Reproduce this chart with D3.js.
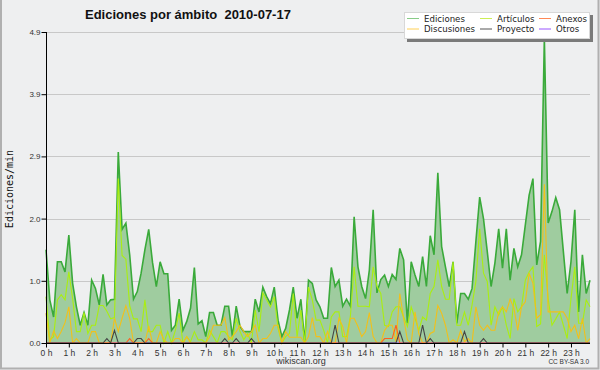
<!DOCTYPE html>
<html><head><meta charset="utf-8">
<script src="https://cdn.jsdelivr.net/npm/d3@7/dist/d3.min.js"></script>
<style>html,body{margin:0;padding:0;background:#eeeff0;overflow:hidden}</style>
</head><body><svg id="c" width="600" height="370"></svg>
<script>
// ---------- DATA (10-minute slots, 0h00 .. 23h50) ----------
const hourLabels = ["0 h","1 h","2 h","3 h","4 h","5 h","6 h","7 h","8 h","9 h","10 h","11 h",
  "12 h","13 h","14 h","15 h","16 h","17 h","18 h","19 h","20 h","21 h","22 h","23 h"];
const yTickValues = [0, 0.98, 1.96, 2.94, 3.92, 4.9];
const yTickLabels = ["0.0","1.0","2.0","2.9","3.9","4.9"];
const seriesNames = ["Ediciones","Artículos","Anexos","Discusiones","Proyecto","Otros"];

const ediciones = [
 1.47,0.68,0.41,1.28,1.28,1.12,1.70,0.94,0.57,0.28,0.48,0.28,
 0.99,0.86,0.60,1.08,0.60,0.68,0.69,3.01,1.79,1.89,1.39,0.69,
 0.81,1.10,1.47,1.79,1.27,0.89,1.28,1.09,1.09,0.20,0.28,0.69,
 0.20,0.34,0.55,1.19,0.30,0.35,0.10,0.48,0.48,0.28,0.28,0.58,
 0.58,0.10,0.58,0.26,0.18,0.18,0.18,0.69,0.49,0.88,0.73,0.62,
 0.88,0.36,0.10,0.23,0.52,0.88,0.39,0.69,0.02,0.99,0.94,0.68,
 0.57,0.39,0.39,1.19,0.89,0.99,0.58,0.69,0.58,1.99,1.20,0.89,
 0.70,1.15,2.10,0.79,1.00,1.07,0.89,1.08,1.00,1.49,1.31,0.31,
 1.28,1.07,0.89,1.36,0.89,1.69,1.39,2.68,1.52,1.20,0.89,1.28,
 0.31,0.78,0.78,0.69,0.86,1.60,2.30,1.96,1.44,0.89,1.26,1.80,
 1.18,1.80,0.99,1.49,1.20,1.39,1.86,2.33,2.59,1.23,1.60,4.80,
 1.89,2.07,2.29,2.10,1.44,0.78,1.28,2.10,0.49,1.39,0.78,0.99];
const articulos = [
 0.73,0.05,0.10,0.68,0.76,0.68,1.12,0.70,0.18,0.18,0.48,0.15,
 0.28,0.28,0.59,0.59,0.50,0.38,0.40,2.59,1.38,1.32,0.59,0.38,
 0.38,0.18,0.68,0.18,0.18,0.28,0.28,0.00,0.18,0.00,0.20,0.47,
 0.00,0.10,0.02,0.18,0.05,0.05,0.00,0.20,0.10,0.00,0.18,0.18,
 0.10,0.05,0.39,0.18,0.05,0.15,0.00,0.52,0.18,0.79,0.68,0.57,
 0.73,0.23,0.00,0.10,0.15,0.78,0.10,0.52,0.00,0.88,0.68,0.36,
 0.36,0.20,0.00,0.41,0.49,0.49,0.10,0.10,0.41,1.20,0.58,0.58,
 0.58,0.57,1.20,0.89,0.78,0.28,0.26,0.49,0.57,0.57,0.41,0.26,
 0.57,0.39,0.20,0.41,0.36,0.78,0.89,1.31,0.89,0.69,0.69,1.28,
 0.28,0.28,0.49,0.28,0.60,0.97,1.80,1.10,0.97,0.28,0.57,0.44,
 0.57,0.28,0.07,0.70,0.49,0.57,0.99,1.12,1.20,0.26,0.30,1.39,
 0.70,0.28,0.38,0.49,0.28,0.07,0.70,1.20,0.31,0.31,0.68,0.57];
const anexos = [
 0,0,0,0,0,0,0,0,0,0,0,0,
 0,0,0,0,0,0,0,0,0,0,0.07,0,
 0,0,0,0.07,0,0,0,0,0,0,0,0,
 0,0,0,0,0,0,0,0,0,0,0,0,
 0,0,0,0,0,0,0,0,0,0,0,0,
 0,0,0,0,0,0,0,0,0,0,0,0,
 0,0,0,0,0,0,0,0,0,0,0,0,
 0,0,0,0,0,0.07,0.07,0.07,0.28,0,0,0,
 0,0,0,0,0,0,0,0,0,0,0,0,
 0,0,0,0,0,0,0,0,0,0,0,0,
 0,0,0,0,0,0,0,0,0,0,0,0,
 0,0,0,0,0,0,0,0,0,0,0,0];
const discusiones = [
 0.47,0.00,0.19,0.07,0.18,0.32,0.57,0.00,0.07,0.00,0.00,0.00,
 0.18,0.18,0.00,0.00,0.00,0.00,0.39,0.18,0.39,0.59,0.39,0.00,
 0.00,0.00,0.00,0.27,0.00,0.00,0.18,0.05,0.00,0.00,0.07,0.07,
 0.00,0.10,0.00,0.00,0.00,0.00,0.00,0.10,0.28,0.28,0.28,0.40,
 0.05,0.10,0.18,0.28,0.18,0.10,0.18,0.28,0.00,0.07,0.07,0.15,
 0.28,0.28,0.00,0.18,0.09,0.09,0.09,0.09,0.00,0.10,0.40,0.10,
 0.10,0.00,0.18,0.00,0.00,0.39,0.26,0.00,0.39,0.39,0.26,0.10,
 0.18,0.48,0.10,0.00,0.00,0.20,0.28,0.28,0.02,0.78,0.39,0.05,
 0.00,0.49,0.15,0.00,0.00,0.15,0.18,0.59,0.47,0.28,0.00,0.05,
 0.00,0.20,0.02,0.07,0.00,0.57,0.28,0.20,0.28,0.20,0.20,0.49,
 0.57,0.49,0.69,0.55,0.20,0.57,0.65,1.10,0.94,0.39,0.45,2.50,
 0.49,0.49,0.49,0.49,0.49,0.39,0.18,0.28,0.07,0.39,0.00,0.07];
const proyecto = [
 0,0,0,0,0,0,0,0,0,0,0,0,
 0,0,0,0,0.07,0,0.20,0,0,0,0,0,
 0.07,0.07,0,0,0,0,0,0,0,0,0,0,
 0,0,0,0,0,0,0,0,0,0,0,0.07,
 0,0,0.07,0,0,0,0.07,0,0,0,0,0,
 0,0,0,0,0,0,0,0,0,0,0,0,
 0,0,0,0,0.28,0,0,0,0,0,0,0,
 0,0,0,0,0,0,0,0,0,0.18,0,0,
 0,0,0,0.28,0,0.07,0,0,0,0,0,0,
 0,0,0.18,0,0,0,0,0.07,0,0,0,0,
 0,0,0,0,0,0,0,0,0,0,0,0,
 0,0,0,0,0,0,0,0,0,0,0,0];
const otros = [
 0,0,0,0,0,0,0,0,0,0,0,0, 0,0,0,0,0,0,0,0,0,0,0,0,
 0,0,0,0,0,0,0,0,0,0,0,0, 0,0,0,0,0,0,0,0,0,0,0,0,
 0,0,0,0,0,0,0,0,0,0,0,0, 0,0,0,0,0,0,0,0,0,0,0,0,
 0,0,0,0,0,0,0,0,0,0,0,0, 0,0,0,0,0,0,0,0,0,0,0,0,
 0,0,0,0,0,0,0,0,0,0,0,0, 0,0,0,0,0,0,0,0,0,0,0,0,
 0,0,0,0,0,0,0,0,0,0,0,0, 0,0,0,0,0,0,0,0,0,0,0,0];

// ---------- DRAW ----------
const W = 600, H = 370;
const svg = d3.select("#c");
const FONT = "'Liberation Sans', Arial, sans-serif";
const PIX = "'DejaVu Sans', Verdana, sans-serif";

svg.append("rect").attr("width", W).attr("height", H).attr("fill", "#eeeff0");
// outer border (right / bottom / left)
svg.append("path").attr("d", "M1,0 V368.5 H598.5 V0").attr("fill", "none")
  .attr("stroke", "#b0b0b0").attr("stroke-width", 2);

const n = ediciones.length;
const x = d3.scaleLinear().domain([0, n - 1]).range([46, 590]);
const y = d3.scaleLinear().domain([0, 4.9]).range([343, 32]);

// grid
svg.append("g").selectAll("line").data(yTickValues.slice(1)).join("line")
  .attr("x1", 46).attr("x2", 590)
  .attr("y1", d => Math.round(y(d)) + 0.5).attr("y2", d => Math.round(y(d)) + 0.5)
  .attr("stroke", "#c8c8c8").attr("stroke-width", 1);

const idx = d3.range(n);
// Ediciones area + line
svg.append("path").datum(idx)
  .attr("d", d3.area().x(i => x(i)).y0(y(0)).y1(i => y(ediciones[i])))
  .attr("fill", "#9fcc9f");

const lineFor = arr => d3.line().x(i => x(i)).y(i => y(arr[i]));
const series = [
  {data: otros, color: "#9933ff", w: 1},
  {data: ediciones, color: "#3aaa3a", w: 1.6},
  {data: articulos, color: "#aaee11", w: 1.1},
  {data: discusiones, color: "#f2c01a", w: 1.1},
  {data: anexos, color: "#ff6020", w: 1.1},
  {data: proyecto, color: "#444444", w: 1.1}
];
series.forEach(s => {
  svg.append("path").datum(idx).attr("d", lineFor(s.data))
    .attr("fill", "none").attr("stroke", s.color).attr("stroke-width", s.w)
    .attr("stroke-linejoin", "miter");
});

// Y axis
const yMinor = d3.range(0, 26).map(k => k * 0.196);
const gy = svg.append("g").attr("transform", "translate(46.5,0)");
gy.call(d3.axisLeft(y).tickValues(yMinor).tickSize(3).tickFormat(""));
gy.call(d3.axisLeft(y).tickValues(yTickValues).tickSize(5).tickPadding(1)
  .tickFormat((d, i) => yTickLabels[i]));
gy.selectAll("path.domain").attr("d", `M0,${y(4.9)}V${y(0)}`).attr("stroke", "#000");
gy.selectAll("line").attr("stroke", "#000");
gy.selectAll("text").attr("font-family", FONT).attr("font-size", 8).attr("fill", "#333");

// X axis
const gx = svg.append("g").attr("transform", "translate(0,343.5)");
gx.call(d3.axisBottom(x).tickValues(idx).tickSize(3).tickFormat(""));
gx.call(d3.axisBottom(x).tickValues(d3.range(0, n, 6)).tickSize(4).tickPadding(2)
  .tickFormat((d) => hourLabels[d / 6]));
gx.selectAll("path.domain").attr("d", `M46,0H590`).attr("stroke", "#000");
gx.selectAll("line").attr("stroke", "#000");
gx.selectAll("text").attr("font-family", FONT).attr("font-size", 8.5).attr("fill", "#333");

// Title
svg.append("text").attr("x", 85).attr("y", 18.5).style("white-space", "pre")
  .attr("font-family", FONT).attr("font-weight", "bold").attr("font-size", 13).attr("fill", "#111")
  .text("Ediciones por ámbito  2010-07-17");

// Y label
svg.append("text").attr("transform", "translate(13,189) rotate(-90)")
  .attr("text-anchor", "middle").attr("font-family", "'DejaVu Sans Mono', monospace")
  .attr("font-size", 10).attr("fill", "#111").text("Ediciones/min");

// footer
svg.append("text").attr("x", 301).attr("y", 364).attr("text-anchor", "middle")
  .attr("font-family", FONT).attr("font-size", 9).attr("fill", "#333").text("wikiscan.org");
svg.append("text").attr("x", 589).attr("y", 364).attr("text-anchor", "end")
  .attr("font-family", FONT).attr("font-size", 6.5).attr("fill", "#333").text("CC BY-SA 3.0");

// Legend
const legendColors = ["#88cc88", "#ccee55", "#ff8855", "#ffd055", "#555555", "#9955ff"];
const lg = svg.append("g");
lg.append("rect").attr("x", 407).attr("y", 15).attr("width", 186).attr("height", 27).attr("fill", "#7a7a7a");
lg.append("rect").attr("x", 404.5).attr("y", 12.5).attr("width", 185).attr("height", 26)
  .attr("fill", "#fff").attr("stroke", "#d8d8d8");
const colX = [407, 480, 539], rowY = [18.5, 29];
seriesNames.forEach((name, i) => {
  const c = i % 3, r = Math.floor(i / 3);
  lg.append("line").attr("x1", colX[c]).attr("x2", colX[c] + 12)
    .attr("y1", rowY[r]).attr("y2", rowY[r]).attr("stroke", legendColors[i]);
  lg.append("text").attr("x", colX[c] + 17).attr("y", rowY[r] + 3.2)
    .attr("font-family", PIX).attr("font-size", 8.6).attr("fill", "#222").text(name);
});
</script></body></html>
